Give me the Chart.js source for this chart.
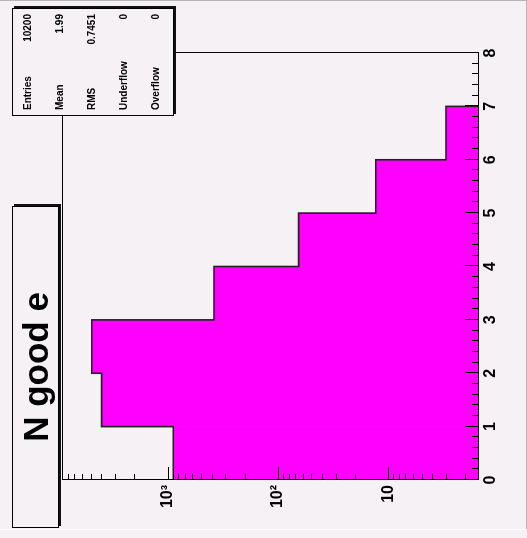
<!DOCTYPE html>
<html>
<head>
<meta charset="utf-8">
<script src="https://cdn.jsdelivr.net/npm/chart.js@4/dist/chart.umd.min.js"></script>
<style>
  html, body { margin: 0; padding: 0; background: #f5f1f5; }
  body { width: 527px; height: 538px; overflow: hidden; position: relative; font-family: "Liberation Sans", Arial, sans-serif; }
  /* the whole pad is drawn upright, then turned a quarter turn to the left */
  #pad { position: absolute; left: 0; top: 0; width: 538px; height: 527px; transform-origin: 0 0; transform: translate(0, 538px) rotate(-90deg); }
  #pad canvas { position: absolute; left: 0; top: 0; }
  .title { position: absolute; left: 10px; top: 12px; width: 320px; height: 45px; border: 1px solid #000; box-shadow: 2px 2px 0 #111; background: #f5f1f5; font-weight: bold; font-size: 35px; display: flex; align-items: center; justify-content: center; }
  .stats { position: absolute; left: 422px; top: 12px; width: 106px; height: 160px; border: 1px solid #000; box-shadow: 2px 2px 0 #111; background: #f5f1f5; font-size: 10px; font-weight: bold; }
  .stats div { position: absolute; left: 5px; right: 5px; height: 12px; line-height: 12px; display: flex; justify-content: space-between; }
  .edge { position: absolute; left: 0; top: 0; width: 526px; height: 528px; border-top: 1px solid #b8b4b8; border-right: 1px solid #b8b4b8; border-bottom: 1px solid #fff; pointer-events: none; }
</style>
</head>
<body>
<div id="pad">
  <canvas id="hist" width="538" height="527"></canvas>
  <div class="title" id="title"></div>
  <div class="stats" id="stats"></div>
</div>
<div class="edge"></div>
<script>
const titleText = "N good e";
const binLow   = [0, 1, 2, 3, 4, 5, 6, 7];
const counts   = [890, 3970, 4880, 380, 65, 13, 3, 0];
const xTicks   = [0, 1, 2, 3, 4, 5, 6, 7, 8];
const yTicks   = [10, 100, 1000];
const yLabels  = ["10", "10²", "10³"];
const yMin = 1.54, yMax = 9080;
const statNames  = ["Entries", "Mean", "RMS", "Underflow", "Overflow"];
const statValues = ["10200", "1.99", "0.7451", "0", "0"];

document.getElementById("title").textContent = titleText;
const statsBox = document.getElementById("stats");
statNames.forEach((n, i) => {
  const row = document.createElement("div");
  row.style.top = (9 + i * 32) + "px";
  row.innerHTML = `<span>${n}</span><span>${statValues[i]}</span>`;
  statsBox.appendChild(row);
});

// bars at bin centres, zero bins left out (log axis)
const bars = binLow.map((b, i) => ({ x: b + 0.5, y: counts[i] })).filter(p => p.y > 0);

// step outline like ROOT draws it
const outline = [{ x: binLow[0], y: yMin }];
binLow.forEach((b, i) => {
  if (counts[i] <= 0) return;
  outline.push({ x: b, y: counts[i] }, { x: b + 1, y: counts[i] });
});
outline.push({ x: outline[outline.length - 1].x, y: yMin });

// frame + ticks pointing inward
const rootAxes = {
  id: "rootAxes",
  afterDatasetsDraw(chart) {
    const { ctx, chartArea: a, scales: { x, y } } = chart;
    ctx.save();
    ctx.strokeStyle = "#000";
    ctx.lineWidth = 1;
    ctx.beginPath();
    for (let v = 0; v <= 40; v++) {
      const px = Math.round(x.getPixelForValue(v / 5)) + 0.5;
      const len = v % 5 === 0 ? 13 : 6;
      ctx.moveTo(px, a.bottom); ctx.lineTo(px, a.bottom - len);
    }
    for (let d = 0; d <= 4; d++) {
      for (let k = 1; k <= 9; k++) {
        const val = k * Math.pow(10, d);
        if (val < yMin || val > yMax) continue;
        const py = Math.round(y.getPixelForValue(val)) + 0.5;
        const len = k === 1 ? 13 : 6;
        ctx.moveTo(a.left, py); ctx.lineTo(a.left + len, py);
      }
    }
    ctx.stroke();
    ctx.strokeRect(Math.round(a.left) + 0.5, Math.round(a.top) + 0.5, Math.round(a.right - a.left), Math.round(a.bottom - a.top));
    ctx.restore();
  }
};

new Chart(document.getElementById("hist"), {
  type: "bar",
  data: {
    datasets: [
      { type: "line", data: outline, borderColor: "#222", borderWidth: 1.6, pointRadius: 0, tension: 0, fill: false, order: 0 },
      { data: bars, backgroundColor: "#ff00ff", borderWidth: 0, barPercentage: 1, categoryPercentage: 1, order: 1 }
    ]
  },
  options: {
    responsive: false,
    animation: false,
    layout: { padding: { left: 0, top: 62, right: 53, bottom: 0 } },
    plugins: { legend: { display: false }, tooltip: { enabled: false } },
    scales: {
      x: {
        type: "linear", min: 0, max: 8, offset: false,
        afterBuildTicks: s => { s.ticks = xTicks.map(v => ({ value: v })); },
        afterFit: s => { s.height = 49; },
        ticks: { color: "#000", font: { family: "Liberation Sans", size: 16, weight: "bold" }, padding: 3, maxRotation: 0, autoSkip: false },
        grid: { display: false, drawTicks: false },
        border: { display: false }
      },
      y: {
        type: "logarithmic", min: yMin, max: yMax,
        afterBuildTicks: s => { s.ticks = yTicks.map(v => ({ value: v })); },
        afterFit: s => { s.width = 58; },
        ticks: {
          color: "#000", font: { family: "Liberation Sans", size: 16, weight: "bold" }, padding: 5, autoSkip: false,
          callback: v => yLabels[yTicks.indexOf(v)] ?? ""
        },
        grid: { display: false, drawTicks: false },
        border: { display: false }
      }
    }
  },
  plugins: [rootAxes]
});
</script>
</body>
</html>
